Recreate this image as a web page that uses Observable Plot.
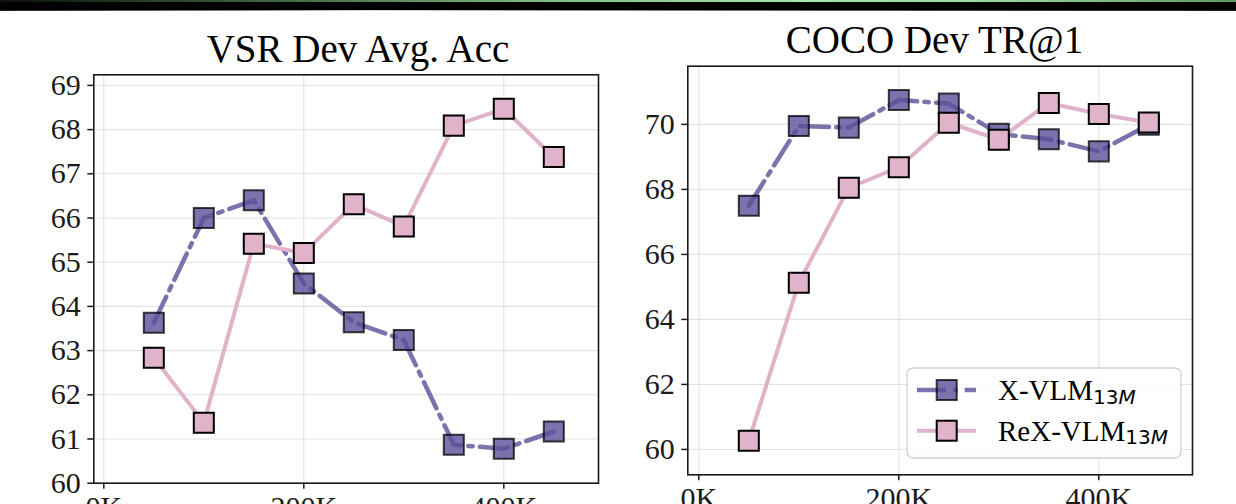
<!DOCTYPE html>
<html>
<head>
<meta charset="utf-8">
<script src="https://cdn.jsdelivr.net/npm/d3@7"></script>
<script src="https://cdn.jsdelivr.net/npm/@observablehq/plot@0.6"></script>
<style>
  html, body { margin: 0; padding: 0; background: #fff; }
  #wrap { position: relative; width: 1236px; height: 504px; overflow: hidden; background: #fff; }
  #topbar { position: absolute; left: 0; top: 0; width: 1236px; height: 11px; background: #000; }
  #topbar .green { position: absolute; left: 0; top: 0; width: 100%; height: 1.5px;
    background: linear-gradient(to right, #0a120a 0%, #2f4a2f 15%, #7fbf7f 45%, #a8e6a8 65%, #9ad89a 80%, #5f9a5f 100%); }
  #topbar .grey { position: absolute; left: 0; bottom: 0; width: 100%; height: 1px;
    background: linear-gradient(to right, #222 0%, #888 20%, #ddd 30%, #999 45%, #555 70%, #222 100%); }
  .panel { position: absolute; top: 0; }
  .panel svg { max-width: none !important; }
  .panel svg text { font-family: 'Liberation Serif' !important; }
  #overlay { position: absolute; left: 0; top: 0; pointer-events: none; }
</style>
</head>
<body>
<div id="wrap">
  <div id="topbar"><div class="green"></div><div class="grey"></div></div>
  <div id="left" class="panel" style="left:0px"></div>
  <div id="right" class="panel" style="left:620px"></div>
  <svg id="overlay" width="1236" height="504"></svg>
</div>
<script>
// ---------------- data ----------------
const steps = [50, 100, 150, 200, 250, 300, 350, 400, 450];          // pre-training steps (K)
const xTicks = [0, 200, 400];
const seriesNames = ["X-VLM", "ReX-VLM"];
const seriesSub = "13";
const titles = ["VSR Dev Avg. Acc", "COCO Dev TR@1"];

const vsrXVLM   = [63.63, 66.00, 66.40, 64.52, 63.64, 63.24, 60.87, 60.78, 61.17];
const vsrReXVLM = [62.84, 61.37, 65.42, 65.21, 66.31, 65.81, 68.09, 68.47, 67.38];
const vsrTicks  = [60, 61, 62, 63, 64, 65, 66, 67, 68, 69];

const cocoXVLM   = [67.50, 69.95, 69.90, 70.75, 70.64, 69.71, 69.54, 69.17, 69.99];
const cocoReXVLM = [60.27, 65.13, 68.05, 68.68, 70.05, 69.53, 70.66, 70.32, 70.06];
const cocoTicks  = [60, 62, 64, 66, 68, 70];

// ---------------- style ----------------
const purple = "#5b4f99";
const pink = "#e0b3cb";
const dashDot = "28.8,7.2,4.5,7.2";
const serif = "Liberation Serif";

function rows(xs, ys) { return xs.map((x, i) => ({x, y: ys[i]})); }

function panel(cfg) {
  const a = rows(steps, cfg.a), b = rows(steps, cfg.b);
  return Plot.plot({
    width: cfg.width, height: cfg.height,
    marginLeft: cfg.ml, marginRight: cfg.mr, marginTop: cfg.mt, marginBottom: cfg.mb,
    style: {fontFamily: serif, fontSize: "30px", color: "#1a1a1a", background: "transparent", overflow: "visible"},
    x: {domain: cfg.xDomain, label: null},
    y: {domain: cfg.yDomain, label: null},
    marks: [
      Plot.gridX(xTicks, {stroke: "#e2e2e2", strokeOpacity: 1, strokeWidth: 1.1}),
      Plot.gridY(cfg.yTicks, {stroke: "#e2e2e2", strokeOpacity: 1, strokeWidth: 1.1}),
      Plot.line(a, {x: "x", y: "y", stroke: purple, strokeOpacity: 0.8, strokeWidth: 4.5, strokeDasharray: dashDot}),
      Plot.dot(a, {x: "x", y: "y", symbol: "square", r: 11.3, fill: purple, fillOpacity: 0.8, stroke: "#000", strokeOpacity: 0.75, strokeWidth: 2}),
      Plot.line(b, {x: "x", y: "y", stroke: pink, strokeWidth: 4}),
      Plot.dot(b, {x: "x", y: "y", symbol: "square", r: 11.3, fill: pink, stroke: "#000", strokeWidth: 2}),
      Plot.frame({stroke: "#1a1a1a", strokeWidth: 1.6}),
      Plot.axisX(xTicks, {tickSize: 6, tickPadding: 6, strokeWidth: 1.5, tickFormat: d => d + "K", label: null,
        fontFamily: serif, fontSize: 30}),
      Plot.axisY(cfg.yTicks, {tickSize: 6, tickPadding: 7, strokeWidth: 1.5, label: null,
        fontFamily: serif, fontSize: 30})
    ]
  });
}

document.getElementById("left").append(panel({
  a: vsrXVLM, b: vsrReXVLM, yTicks: vsrTicks, yDomain: [60, 69.24], xDomain: [-10, 494.7],
  width: 620, height: 540, ml: 93.3, mr: 22, mt: 74.3, mb: 57.3
}));
document.getElementById("right").append(panel({
  a: cocoXVLM, b: cocoReXVLM, yTicks: cocoTicks, yDomain: [59.22, 71.79], xDomain: [-11, 493.7],
  width: 616, height: 540, ml: 67.3, mr: 44, mt: 65.7, mb: 65.7
}));

// ---------------- titles & legend ----------------
const ov = d3.select("#overlay");
const titlePos = [[358, 61.7], [934.5, 53.3]];
titles.forEach((t, i) => {
  ov.append("text").attr("x", titlePos[i][0]).attr("y", titlePos[i][1])
    .attr("text-anchor", "middle").attr("font-family", serif).attr("font-size", 39)
    .attr("fill", "#000").text(t);
});

const lg = ov.append("g");
lg.append("rect").attr("x", 907).attr("y", 368).attr("width", 274).attr("height", 90).attr("rx", 6)
  .attr("fill", "#fff").attr("fill-opacity", 0.8).attr("stroke", "#d0d0d0").attr("stroke-width", 1.3);
const rowY = [390, 430.7];
seriesNames.forEach((name, i) => {
  const y = rowY[i];
  const isX = i === 0;
  lg.append("line").attr("x1", 917).attr("x2", 976).attr("y1", y).attr("y2", y)
    .attr("stroke", isX ? purple : pink).attr("stroke-opacity", isX ? 0.8 : 1)
    .attr("stroke-width", isX ? 4.5 : 4).attr("stroke-dasharray", isX ? dashDot : null);
  lg.append("rect").attr("x", 946.7 - 10).attr("y", y - 10).attr("width", 20).attr("height", 20)
    .attr("fill", isX ? purple : pink).attr("fill-opacity", isX ? 0.8 : 1)
    .attr("stroke", "#000").attr("stroke-opacity", isX ? 0.75 : 1).attr("stroke-width", 2);
  const t = lg.append("text").attr("x", 998).attr("y", y + 10).attr("fill", "#000")
    .attr("font-family", serif).attr("font-size", 29);
  t.append("tspan").text(name);
  t.append("tspan").attr("dy", 3.5).attr("font-family", "DejaVu Sans").attr("font-size", 20).text(seriesSub);
  t.append("tspan").attr("font-family", "DejaVu Sans").attr("font-size", 20).attr("font-style", "italic").text("M");
});
</script>
</body>
</html>
